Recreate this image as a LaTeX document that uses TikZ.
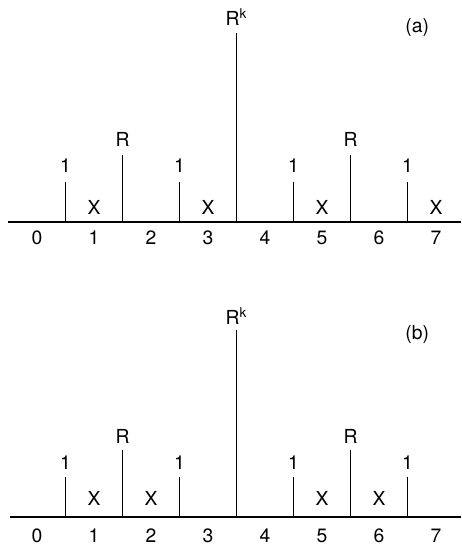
\documentclass[tikz,border=0pt]{standalone}
\usepackage{fontspec}
\setmainfont{TeX Gyre Heros}
\begin{document}
\begin{tikzpicture}[x=1.14cm,y=1cm,line width=0.9pt,every node/.style={font=\fontsize{11}{13}\selectfont,inner sep=0pt}]
\useasboundingbox (-0.649,-0.58) rectangle (7.439,10.34);
% panel (a)
\begin{scope}[yshift=5.9cm]
\draw (-0.51,0) -- (7.44,0);
\foreach \x/\h/\lbl in {0.5/0.8/1,1.5/1.34/R,2.5/0.8/1,3.5/3.78/R\textsuperscript{k},4.5/0.8/1,5.5/1.34/R,6.5/0.8/1} {
  \draw (\x,0) -- (\x,\h);
  \node (a-\x) at (\x,\h+0.32) {\lbl};
}
\foreach \x in {1,3,5,7} \node (ax-\x) at (\x,0.3) {X};
\foreach \x in {0,...,7} \node (an-\x) at (\x,-0.32) {\x};
\node (alab) at (6.67,3.88) {(a)};
\end{scope}
% panel (b)
\draw (-0.47,0) -- (7.44,0);
\foreach \x/\h/\lbl in {0.5/0.8/1,1.5/1.34/R,2.5/0.8/1,3.5/3.74/R\textsuperscript{k},4.5/0.8/1,5.5/1.34/R,6.5/0.8/1} {
  \draw (\x,0) -- (\x,\h);
  \node (b-\x) at (\x,\h+0.28) {\lbl};
}
\foreach \x in {1,2,5,6} \node (bx-\x) at (\x,0.38) {X};
\foreach \x in {0,...,7} \node (bn-\x) at (\x,-0.38) {\x};
\node (blab) at (6.67,3.64) {(b)};
\end{tikzpicture}
\end{document}
